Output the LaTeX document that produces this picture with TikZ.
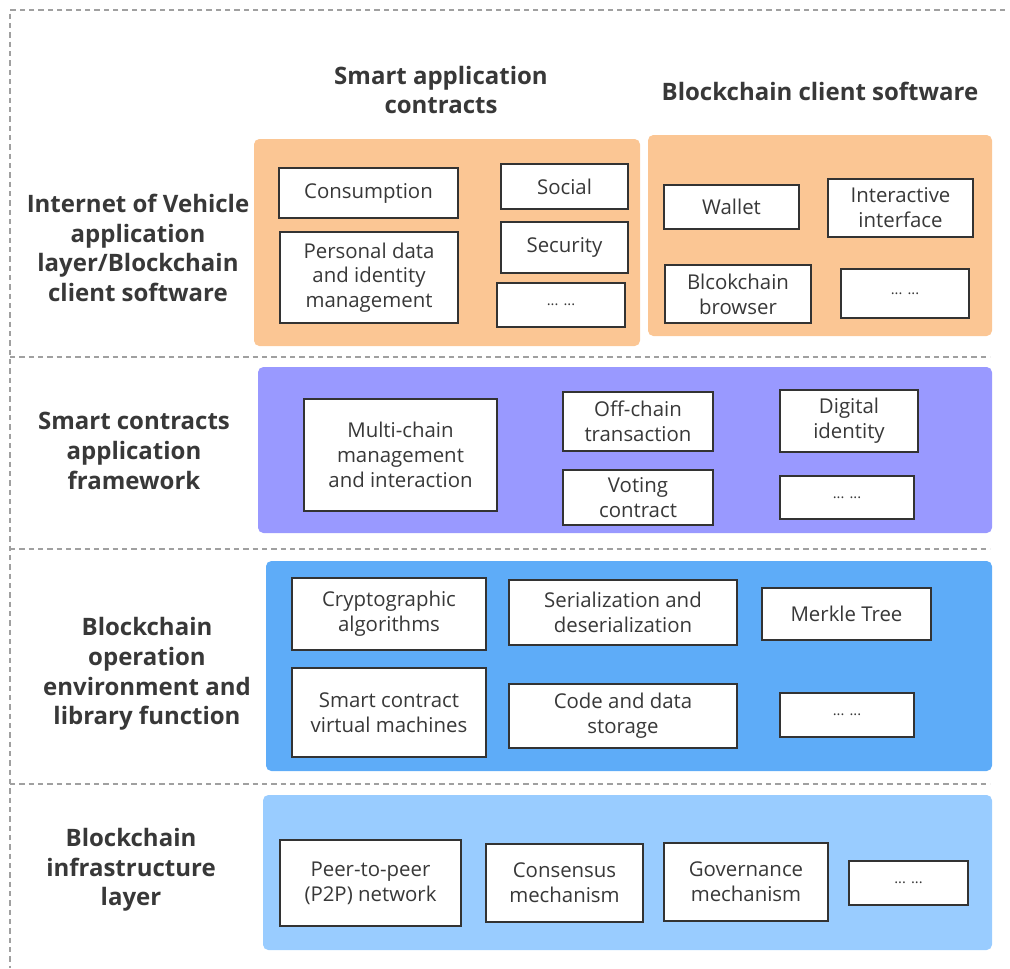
\documentclass[tikz,border=0pt]{standalone}
\usepackage{fontspec}
\setmainfont{Open Sans}
\usetikzlibrary{positioning}
\definecolor{txt}{HTML}{383838}
\definecolor{boxline}{HTML}{333333}
\definecolor{orangefill}{HTML}{FBC694}
\definecolor{purplefill}{HTML}{9999FF}
\definecolor{bluefill}{HTML}{5EACF8}
\definecolor{lightbluefill}{HTML}{99CCFF}
\definecolor{dashgray}{HTML}{A0A0A0}
\tikzset{
  box/.style={draw=boxline, line width=1.6pt, fill=white, inner sep=0pt, outer sep=0pt,
    align=center, text=txt, font=\fontsize{15.3}{18.6}\selectfont},
  panel/.style={inner sep=0pt, outer sep=0pt, rounded corners=4pt},
  layerlabel/.style={align=center, text=txt, font=\bfseries\fontsize{18}{22.2}\selectfont},
  sep/.style={draw=dashgray, line width=0.8pt, dash pattern=on 4pt off 3pt},
  dots/.style={font=\fontsize{11}{13}\selectfont},
}
\newcommand\bx[7][box]{\node[#1, minimum width=(#5-#3)*0.75pt, minimum height=(#6-#4)*0.75pt] (#2) at ({(#3+#5)/2},{(#4+#6)/2}) {#7};}
\begin{document}
\begin{tikzpicture}[x=0.75pt,y=-0.75pt]
\useasboundingbox (0,0) rectangle (1010,968);
% dashed frame and separators
\coordinate (tl) at (10,10);
\coordinate (tr) at (1005,10);
\coordinate (bl) at (10,968);
\draw[sep] (tr) -- (tl) -- (bl);
\coordinate (s1a) at (10,357); \coordinate (s1b) at (990,357);
\coordinate (s2a) at (10,549); \coordinate (s2b) at (990,549);
\coordinate (s3a) at (10,784); \coordinate (s3b) at (990,784);
\draw[sep] (s1a) -- (s1b);
\draw[sep] (s2a) -- (s2b);
\draw[sep] (s3a) -- (s3b);

% titles
\node[layerlabel] (t1) at (441,90) {Smart application\\contracts};
\node[layerlabel] (t2) at (820,91) {Blockchain client software};

% layer labels
\node[layerlabel] (l1) at (138,248) {Internet of Vehicle\\application\\layer/Blockchain\\client software};
\node[layerlabel] (l2) at (134,451) {Smart contracts\\application\\framework};
\node[layerlabel] (l3) at (147,674) {Blockchain\\operation\\environment and\\library function};
\node[layerlabel] (l4) at (131,870) {Blockchain\\infrastructure\\layer};

% panels
\bx[panel,fill=orangefill]{p1}{254}{139}{640}{346}{}
\bx[panel,fill=orangefill]{p2}{648}{135}{992}{336}{}
\bx[panel,fill=purplefill]{p3}{258}{367}{992}{533}{}
\bx[panel,fill=bluefill]{p4}{266}{561}{992}{771}{}
\bx[panel,fill=lightbluefill]{p5}{263}{795}{992}{950}{}

% row 1
\bx{consumption}{279}{168}{458}{218}{Consumption}
\bx{personal}{280}{232}{458}{323}{Personal data\\and identity\\management}
\bx{social}{501}{164}{628}{209}{Social}
\bx{security}{501}{222}{628}{273}{Security}
\bx{etc1}{497}{283}{625}{327}{\fontsize{11}{13}\selectfont ... ...}
\bx{wallet}{664}{185}{799}{229}{Wallet}
\bx{interactive}{828}{179}{973}{237}{Interactive\\interface}
\bx{browser}{665}{265}{811}{323}{Blcokchain\\browser}
\bx{etc2}{841}{269}{969}{318}{\fontsize{11}{13}\selectfont ... ...}

% row 2
\bx{multichain}{304}{399}{497}{511}{Multi-chain\\management\\and interaction}
\bx{offchain}{563}{392}{713}{451}{Off-chain\\transaction}
\bx{voting}{563}{470}{713}{525}{Voting\\contract}
\bx{digital}{780}{390}{918}{452}{Digital\\identity}
\bx{etc3}{780}{476}{914}{519}{\fontsize{11}{13}\selectfont ... ...}

% row 3
\bx{crypto}{292}{578}{486}{650}{Cryptographic\\algorithms}
\bx{serial}{509}{580}{737}{645}{Serialization and\\deserialization}
\bx{merkle}{762}{588}{931}{640}{Merkle Tree}
\bx{vm}{292}{668}{486}{757}{Smart contract\\virtual machines}
\bx{storage}{509}{684}{737}{748}{Code and data\\storage}
\bx{etc4}{780}{693}{914}{737}{\fontsize{11}{13}\selectfont ... ...}

% row 4
\bx{p2p}{280}{840}{461}{926}{Peer-to-peer\\(P2P) network}
\bx{consensus}{486}{844}{643}{922}{Consensus\\mechanism}
\bx{governance}{664}{843}{828}{921}{Governance\\mechanism}
\bx{etc5}{849}{861}{968}{905}{\fontsize{11}{13}\selectfont ... ...}
\end{tikzpicture}
\end{document}
